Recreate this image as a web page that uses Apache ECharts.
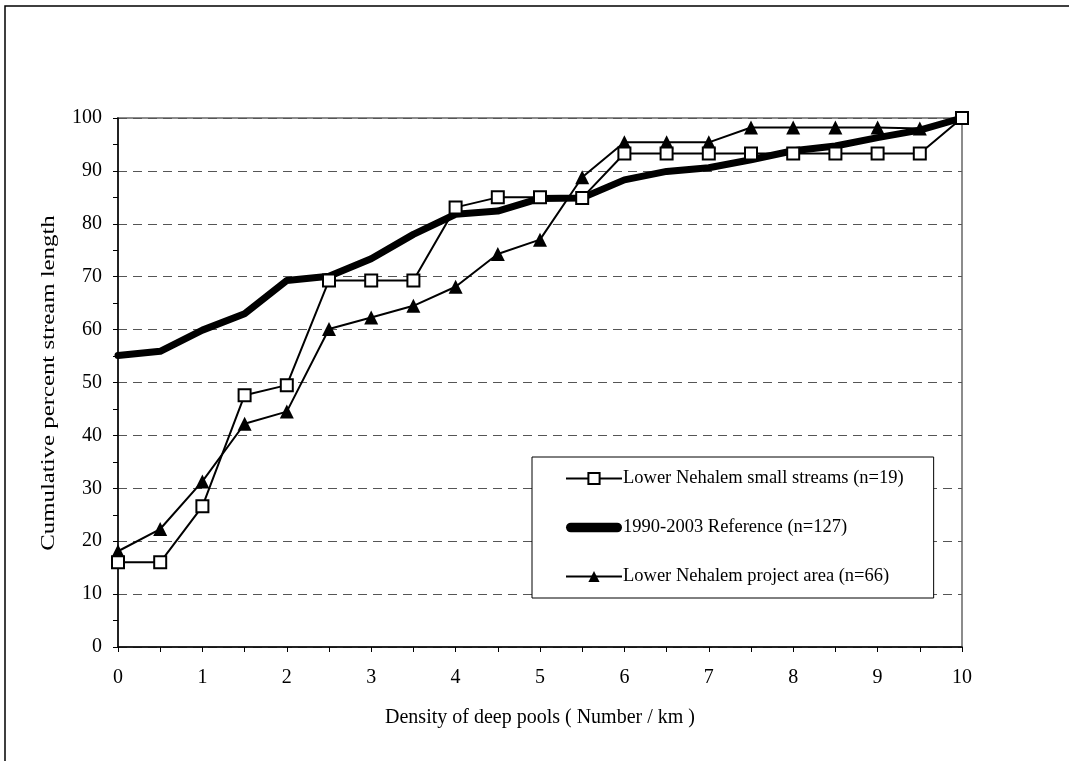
<!DOCTYPE html>
<html>
<head>
<meta charset="utf-8">
<script src="https://cdn.jsdelivr.net/npm/echarts@6/dist/echarts.min.js"></script>
<style>
html,body{margin:0;padding:0;background:#fff;}
#chart{width:1069px;height:761px;}
</style>
</head>
<body>
<div id="chart"></div>
<script>
const densities = [0, 0.5, 1, 1.5, 2, 2.5, 3, 3.5, 4, 4.5, 5, 5.5, 6, 6.5, 7, 7.5, 8, 8.5, 9, 9.5, 10];
const smallStreams = [16.0, 16.0, 26.6, 47.6, 49.5, 69.3, 69.3, 69.3, 83.1, 85.0, 85.0, 84.9, 93.3, 93.3, 93.3, 93.3, 93.3, 93.3, 93.3, 93.3, 100];
const reference = [55.1, 55.9, 59.9, 63.0, 69.3, 70.1, 73.4, 78.0, 81.8, 82.4, 84.8, 84.9, 88.3, 89.9, 90.6, 92.1, 93.8, 94.7, 96.3, 97.7, 100];
const projectArea = [18.1, 22.3, 31.3, 42.2, 44.5, 60.1, 62.3, 64.5, 68.1, 74.3, 77.0, 88.8, 95.4, 95.4, 95.4, 98.2, 98.2, 98.2, 98.2, 98.0, 100];
const seriesNames = ['Lower Nehalem small streams (n=19)', '1990-2003 Reference (n=127)', 'Lower Nehalem project area (n=66)'];
const xTitle = 'Density of deep pools ( Number / km )';
const yTitle = 'Cumulative percent stream length';

const pairs = ys => densities.map((x, i) => [x, ys[i]]);
const FONT = 'Liberation Serif';
const thickIcon = 'path://M0,0 M58,14 M5,2 L53,2 A5,5 0 0 1 53,12 L5,12 A5,5 0 0 1 5,2 Z';

const chart = echarts.init(document.getElementById('chart'), null, {renderer: 'canvas'});
chart.setOption({
  backgroundColor: '#fff',
  animation: false,
  textStyle: {fontFamily: FONT, color: '#000'},
  graphic: [{
    type: 'rect', silent: true, z: -10,
    shape: {x: 5, y: 6, width: 1100, height: 800},
    style: {fill: 'none', stroke: '#000', lineWidth: 1.5}
  }, {
    type: 'text', silent: true,
    x: 49, y: 383, rotation: Math.PI / 2, scaleX: 1.24, scaleY: 0.95,
    style: {text: yTitle, fill: '#000', font: '20px "Liberation Serif"', align: 'center', verticalAlign: 'middle'}
  }],
  grid: {left: 118, right: 107, top: 118, bottom: 114, show: true, borderColor: '#8c8c8c', borderWidth: 2, backgroundColor: 'transparent'},
  legend: {
    orient: 'vertical',
    left: 532, top: 457,
    backgroundColor: '#fff',
    borderColor: '#000', borderWidth: 1,
    padding: [12, 30, 12, 33],
    itemGap: 30,
    itemWidth: 56, itemHeight: 14,
    textStyle: {fontFamily: FONT, fontSize: 18.5, color: '#000', padding: [0, 0, 0, -4]},
    data: [
      {name: seriesNames[0]},
      {name: seriesNames[1], icon: thickIcon},
      {name: seriesNames[2]}
    ]
  },
  xAxis: {
    type: 'value', min: 0, max: 10, interval: 1,
    name: xTitle, nameLocation: 'middle', nameGap: 61,
    nameTextStyle: {fontFamily: FONT, fontSize: 20, color: '#000'},
    axisLine: {show: true, lineStyle: {color: '#000', width: 1.5}},
    axisTick: {show: true, inside: false, length: 5, lineStyle: {color: '#000'}},
    minorTick: {show: true, splitNumber: 2, length: 5, lineStyle: {color: '#000'}},
    axisLabel: {fontFamily: FONT, fontSize: 20, color: '#000', margin: 21},
    splitLine: {show: false}
  },
  yAxis: {
    type: 'value', min: 0, max: 100, interval: 10,
    axisLine: {show: true, lineStyle: {color: '#000', width: 1.5}},
    axisTick: {show: true, inside: false, length: 5, lineStyle: {color: '#000'}},
    minorTick: {show: true, splitNumber: 2, length: 5, lineStyle: {color: '#000'}},
    axisLabel: {fontFamily: FONT, fontSize: 20, color: '#000', margin: 16},
    splitLine: {show: true, lineStyle: {color: '#555', type: [9, 6], width: 1}}
  },
  series: [
    {
      name: seriesNames[0], type: 'line', data: pairs(smallStreams), z: 4,
      symbol: 'rect', symbolSize: 12,
      lineStyle: {color: '#000', width: 2},
      itemStyle: {color: '#fff', borderColor: '#000', borderWidth: 2}
    },
    {
      name: seriesNames[1], type: 'line', data: pairs(reference), z: 2,
      symbol: 'none', showSymbol: false,
      lineStyle: {color: '#000', width: 7, cap: 'round', join: 'round'},
      itemStyle: {color: '#000'}
    },
    {
      name: seriesNames[2], type: 'line', data: pairs(projectArea), z: 3,
      symbol: 'triangle', symbolSize: 14,
      lineStyle: {color: '#000', width: 2},
      itemStyle: {color: '#000', borderColor: '#000', borderWidth: 0}
    }
  ]
});
</script>
</body>
</html>
